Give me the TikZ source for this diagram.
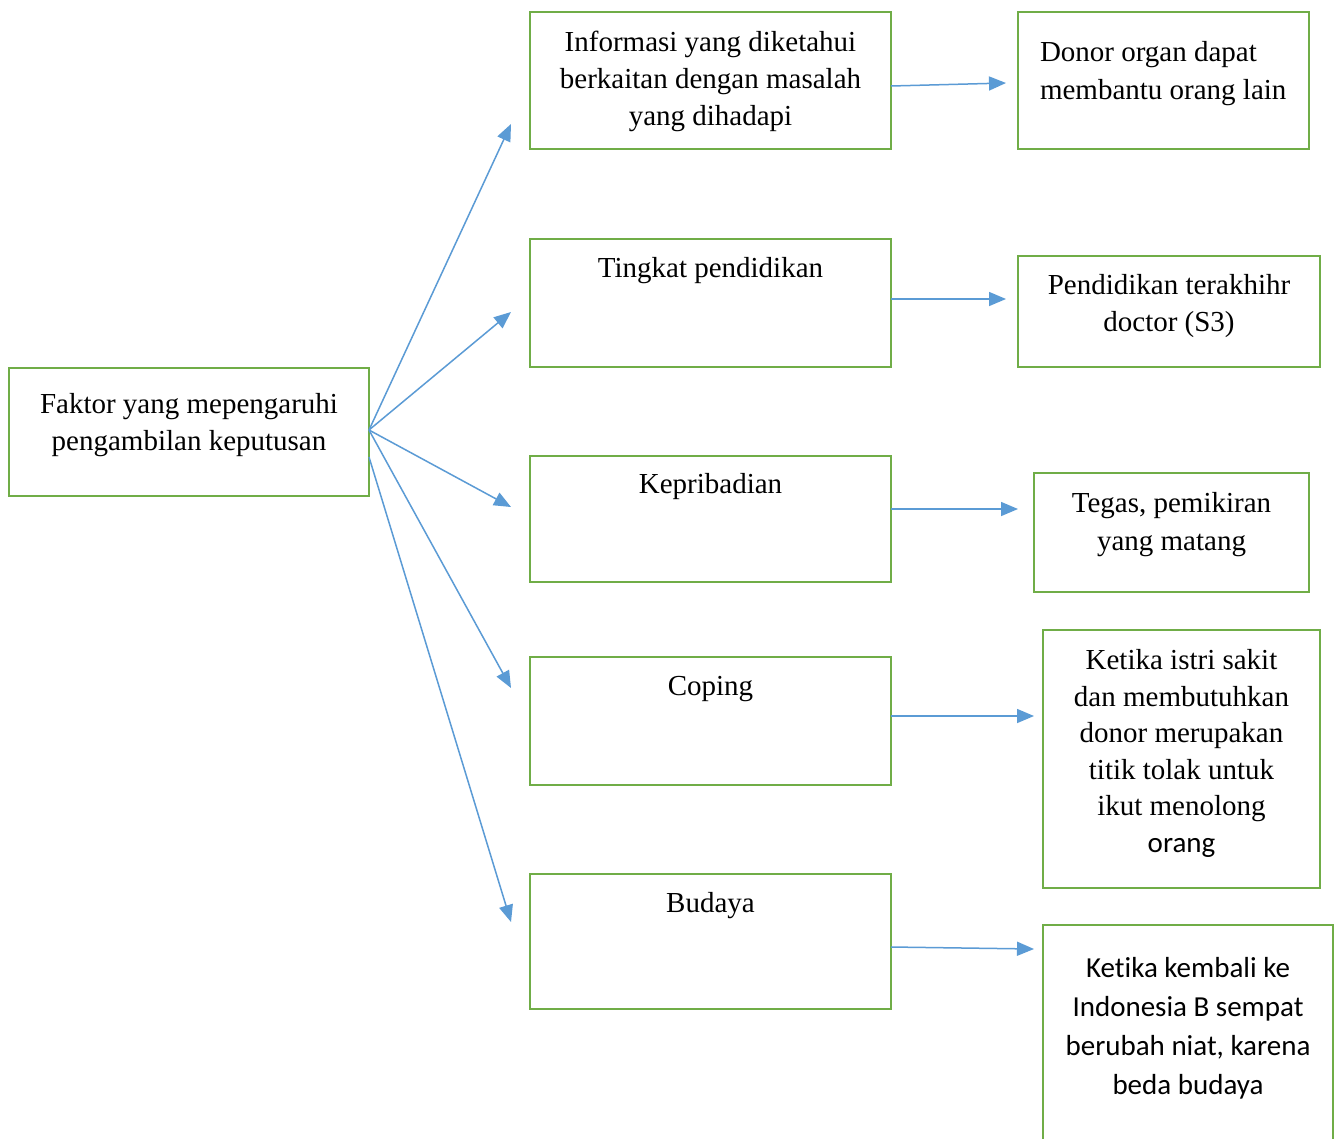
\documentclass[tikz,border=0pt]{standalone}
\usepackage{fontspec}
\setmainfont{Liberation Serif}
\newfontfamily\carlito[Ligatures=NoCommon]{Carlito}
\usetikzlibrary{arrows.meta}
\definecolor{boxgreen}{HTML}{70AD47}
\definecolor{arrowblue}{HTML}{5B9BD5}
\newcommand\boxtext[4]{\parbox[c][#2pt][t]{#1pt}{\vspace*{#3pt}\centering\strut #4\par}}
\begin{document}
\begin{tikzpicture}[x=1pt,y=-1pt,
  gbox/.style={draw=boxgreen,line width=2.9pt,inner sep=0pt,outer sep=0pt,anchor=north west,font=\fontsize{29}{37}\selectfont},
  conn/.style={draw=arrowblue,line width=1.5pt,-{Triangle[length=17pt,width=14pt]}}]
\useasboundingbox (0,0) rectangle (1335,1138);
\clip (0,0) rectangle (1335,1138);
\fill[white] (0,0) rectangle (1335,1138);

\node[gbox] (L) at (9,368) {\boxtext{360}{128}{19.6}{Faktor yang mepengaruhi\\pengambilan keputusan}};

\node[gbox] (B1) at (530,12) {\boxtext{361}{137}{13.6}{Informasi yang diketahui\\berkaitan dengan masalah\\yang dihadapi}};
\node[gbox] (B2) at (530,239) {\boxtext{361}{128}{12.6}{Tingkat pendidikan}};
\node[gbox] (B3) at (530,456) {\boxtext{361}{126}{11.6}{Kepribadian}};
\node[gbox] (B4) at (530,657) {\boxtext{361}{128}{12.6}{Coping}};
\node[gbox] (B5) at (530,874) {\boxtext{361}{135}{12.6}{Budaya}};

\node[gbox,font=\fontsize{29}{38}\selectfont] (R1) at (1018,12) {\parbox[c][137pt][t]{291pt}{\vspace*{22.9pt}\leftskip=22pt\strut Donor organ dapat\\membantu orang lain\par}};
\node[gbox] (R2) at (1018,256) {\boxtext{302}{111}{12.6}{Pendidikan terakhihr\\doctor (S3)}};
\node[gbox,font=\fontsize{29}{38}\selectfont] (R3) at (1034,473) {\boxtext{275}{119}{13}{Tegas, pemikiran\\yang matang}};
\node[gbox,font=\fontsize{29}{36.6}\selectfont] (R4) at (1043,630) {\boxtext{277}{258}{13.8}{Ketika istri sakit\\dan membutuhkan\\donor merupakan\\titik tolak untuk\\ikut menolong\\{\carlito orang}}};
\node[gbox] (R5) at (1043,925) {\boxtext{290}{240}{27}{\carlito\fontsize{29}{38.7}\selectfont Ketika kembali ke\\Indonesia B sempat\\berubah niat, karena\\beda budaya}};

\coordinate (t1) at (511,124);
\coordinate (t2) at (511,312);
\coordinate (t3) at (511,507);
\coordinate (t4) at (511,688);
\coordinate (t5) at (511,922);
\draw[conn] ([yshift=2pt]L.east) -- (t1);
\draw[conn] ([yshift=2pt]L.east) -- (t2);
\draw[conn] ([yshift=2pt]L.east) -- (t3);
\draw[conn] ([yshift=2pt]L.east) -- (t4);
\draw[conn] ([yshift=-25pt]L.east) -- (t5);

\coordinate (u1) at (1006,83);
\coordinate (u2) at (1006,299);
\coordinate (u3) at (1018,509);
\coordinate (u4) at (1034,716);
\coordinate (u5) at (1034,949);
\draw[conn] ([yshift=-5.5pt]B1.east) -- (u1);
\draw[conn] ([yshift=4pt]B2.east) -- (u2);
\draw[conn] ([yshift=10pt]B3.east) -- (u3);
\draw[conn] ([yshift=5pt]B4.east) -- (u4);
\draw[conn] ([yshift=-5.5pt]B5.east) -- (u5);
\end{tikzpicture}
\end{document}
